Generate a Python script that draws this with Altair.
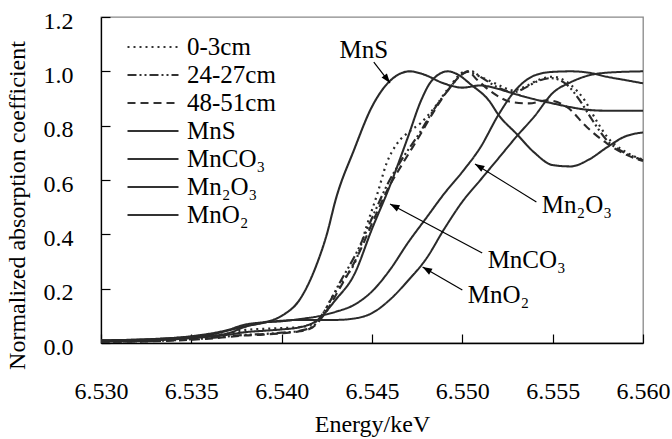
import math
import altair as alt
import pandas as pd

FONT = "Liberation Serif, DejaVu Serif, serif"

series_names = ["0-3cm", "24-27cm", "48-51cm", "MnS", "MnCO₃", "Mn₂O₃", "MnO₂"]

# ---- sample spectra ----
e_0_3 = [6.530, 6.532, 6.534, 6.536, 6.537, 6.538, 6.539, 6.540, 6.541, 6.5417, 6.5423, 6.5428,
         6.5433, 6.5442, 6.5447, 6.5453, 6.5458, 6.5464, 6.5471, 6.5477, 6.5485, 6.5492, 6.5502,
         6.551, 6.552, 6.5528, 6.5535, 6.5542, 6.555, 6.556, 6.5567, 6.5575, 6.558, 6.559, 6.560]
v_0_3 = [0.005, 0.008, 0.015, 0.025, 0.035, 0.048, 0.052, 0.055, 0.058, 0.07, 0.11, 0.17,
         0.22, 0.32, 0.43, 0.55, 0.66, 0.735, 0.78, 0.81, 0.87, 0.935, 1.0,
         0.98, 0.95, 0.93, 0.945, 0.968, 0.98, 0.95, 0.9, 0.81, 0.76, 0.705, 0.675]

e_24_27 = [6.530, 6.532, 6.534, 6.536, 6.537, 6.538, 6.539, 6.540, 6.541, 6.5417, 6.5423, 6.5432,
           6.5442, 6.5452, 6.5459, 6.5466, 6.5477, 6.5484, 6.5492, 6.550, 6.5505, 6.551, 6.552,
           6.5528, 6.5535, 6.5541, 6.5549, 6.5558, 6.5565, 6.5572, 6.558, 6.559, 6.560]
v_24_27 = [0.005, 0.006, 0.01, 0.018, 0.024, 0.03, 0.033, 0.038, 0.045, 0.06, 0.11, 0.22,
           0.34, 0.49, 0.59, 0.67, 0.78, 0.857, 0.93, 0.99, 1.0, 0.98, 0.94,
           0.923, 0.94, 0.962, 0.975, 0.95, 0.893, 0.82, 0.746, 0.70, 0.673]

e_48_51 = [6.530, 6.532, 6.534, 6.536, 6.537, 6.538, 6.539, 6.540, 6.541, 6.5417, 6.5423, 6.5432,
           6.5442, 6.5452, 6.5459, 6.5466, 6.5477, 6.5484, 6.5492, 6.550, 6.5503, 6.5508, 6.5515,
           6.5528, 6.5537, 6.5547, 6.5558, 6.5569, 6.558, 6.559, 6.560]
v_48_51 = [0.004, 0.005, 0.009, 0.016, 0.022, 0.028, 0.031, 0.036, 0.043, 0.057, 0.10, 0.20,
           0.32, 0.47, 0.57, 0.65, 0.77, 0.85, 0.93, 0.99, 1.0, 0.97, 0.93,
           0.886, 0.882, 0.893, 0.868, 0.794, 0.735, 0.695, 0.67]

# ---- reference spectra ----
e_mns = [6.530, 6.532, 6.534, 6.536, 6.537, 6.538, 6.539, 6.540, 6.541, 6.542, 6.5425, 6.543,
         6.544, 6.545, 6.546, 6.5471, 6.5478, 6.549, 6.550, 6.551, 6.552, 6.553, 6.554, 6.555,
         6.556, 6.557, 6.558, 6.560]
v_mns = [0.01, 0.012, 0.018, 0.03, 0.045, 0.062, 0.075, 0.10, 0.16, 0.30, 0.40, 0.53,
         0.71, 0.87, 0.965, 1.0, 0.99, 0.955, 0.94, 0.948, 0.935, 0.915, 0.897, 0.882,
         0.868, 0.858, 0.855, 0.855]

e_mnco3 = [6.530, 6.533, 6.535, 6.537, 6.538, 6.539, 6.540, 6.541, 6.542, 6.543, 6.544, 6.545,
           6.546, 6.547, 6.5477, 6.5483, 6.5492, 6.5497, 6.5505, 6.5515, 6.552, 6.553, 6.554,
           6.555, 6.556, 6.557, 6.558, 6.559, 6.560]
v_mnco3 = [0.005, 0.01, 0.018, 0.03, 0.04, 0.045, 0.05, 0.058, 0.085, 0.16, 0.25, 0.42,
           0.58, 0.76, 0.89, 0.965, 1.0, 0.99, 0.95, 0.89, 0.84, 0.77, 0.70,
           0.655, 0.65, 0.675, 0.72, 0.76, 0.775]

e_mn2o3 = [6.530, 6.533, 6.535, 6.537, 6.538, 6.539, 6.540, 6.541, 6.542, 6.543, 6.544, 6.545,
           6.546, 6.547, 6.548, 6.549, 6.550, 6.551, 6.552, 6.553, 6.554, 6.555, 6.556, 6.557,
           6.558, 6.559, 6.560]
v_mn2o3 = [0.01, 0.015, 0.025, 0.048, 0.068, 0.076, 0.08, 0.088, 0.098, 0.115, 0.14, 0.19,
           0.27, 0.37, 0.46, 0.55, 0.63, 0.72, 0.84, 0.935, 0.985, 0.998, 1.0, 0.995,
           0.98, 0.968, 0.956]

e_mno2 = [6.530, 6.533, 6.535, 6.537, 6.538, 6.539, 6.540, 6.541, 6.543, 6.544, 6.545, 6.546,
          6.547, 6.548, 6.549, 6.550, 6.551, 6.552, 6.553, 6.554, 6.555, 6.556, 6.557, 6.558,
          6.560]
v_mno2 = [0.008, 0.012, 0.02, 0.035, 0.06, 0.075, 0.082, 0.085, 0.085, 0.09, 0.11, 0.16,
          0.23, 0.31, 0.42, 0.52, 0.60, 0.68, 0.76, 0.835, 0.92, 0.96, 0.985, 0.995,
          1.0]

series_e = [e_0_3, e_24_27, e_48_51, e_mns, e_mnco3, e_mn2o3, e_mno2]
series_v = [v_0_3, v_24_27, v_48_51, v_mns, v_mnco3, v_mn2o3, v_mno2]

# ---- annotations ----
ann_labels = ["MnS", "Mn₂O₃", "MnCO₃", "MnO₂"]
ann_text_e = [6.5432, 6.5544, 6.5514, 6.5503]
ann_text_v = [1.078, 0.508, 0.305, 0.177]
arrow_start_e = [6.5451, 6.5541, 6.5511, 6.5500]
arrow_start_v = [1.034, 0.519, 0.331, 0.195]
arrow_tip_e = [6.5460, 6.5507, 6.5460, 6.5478]
arrow_tip_v = [0.957, 0.659, 0.512, 0.280]

x_ticks = [6.530, 6.535, 6.540, 6.545, 6.550, 6.555, 6.560]
y_ticks = [0.0, 0.2, 0.4, 0.6, 0.8, 1.0, 1.2]

dash_range = [[2, 4], [9, 3, 2, 3, 2, 3], [8, 5], [1, 0], [1, 0], [1, 0], [1, 0]]
width_range = [2.2, 2.0, 2.1, 1.1, 1.1, 1.1, 1.1]

W, H = 542, 326
X0, X1 = 6.530, 6.560
Y0, Y1 = 0.0, 1.2

rows = []
for name, es, vs in zip(series_names, series_e, series_v):
    for e, v in zip(es, vs):
        rows.append({"series": name, "E": e, "v": v})
df = pd.DataFrame(rows)

ang = []
for se, sv, te, tv in zip(arrow_start_e, arrow_start_v, arrow_tip_e, arrow_tip_v):
    dx = (te - se) * W / (X1 - X0)
    dy = -(tv - sv) * H / (Y1 - Y0)
    ang.append(math.degrees(math.atan2(dx, -dy)) % 360)

ann = pd.DataFrame({
    "label": ann_labels, "te": ann_text_e, "tv": ann_text_v,
    "se": arrow_start_e, "sv": arrow_start_v,
    "pe": arrow_tip_e, "pv": arrow_tip_v, "ang": ang,
})

x_scale = alt.Scale(domain=[X0, X1], nice=False, zero=False)
y_scale = alt.Scale(domain=[Y0, Y1], nice=False, zero=False)

lines = alt.Chart(df).mark_line(interpolate="monotone", color="#2a2a2a").encode(
    x=alt.X("E:Q", scale=x_scale,
            axis=alt.Axis(values=x_ticks, format=".3f", ticks=False, tickSize=0, grid=False,
                          domainColor="black", domainWidth=1.3, labelFont=FONT, labelFontSize=24,
                          labelColor="black", labelPadding=36, labelFlush=False,
                          title="Energy/keV", titleFont=FONT, titleFontSize=24,
                          titleFontWeight="normal", titleColor="black", titlePadding=9)),
    y=alt.Y("v:Q", scale=y_scale,
            axis=alt.Axis(values=y_ticks, format=".1f", ticks=False, tickSize=0, grid=False,
                          domainColor="black", domainWidth=1.3, labelFont=FONT, labelFontSize=24,
                          labelColor="black", labelPadding=28, labelOffset=4, labelFlush=False,
                          title="Normalized absorption coefficient", titleFont=FONT,
                          titleFontSize=24, titleFontWeight="normal", titleColor="black",
                          titlePadding=14, titleY=188)),
    strokeDash=alt.StrokeDash(
        "series:N", scale=alt.Scale(domain=series_names, range=dash_range),
        legend=alt.Legend(title=None, orient="none", legendX=25, legendY=19,
                          symbolType="stroke", symbolSize=2601, symbolStrokeWidth=1.5,
                          symbolStrokeColor="#333333", clipHeight=22, rowPadding=3,
                          labelOffset=7, padding=0, labelFont=FONT, labelFontSize=25,
                          labelColor="black", labelLimit=200)),
    strokeWidth=alt.StrokeWidth("series:N", scale=alt.Scale(domain=series_names, range=width_range),
                                legend=None),
)

arrows = alt.Chart(ann).mark_rule(color="black", strokeWidth=1.2).encode(
    x="se:Q", y="sv:Q", x2="pe:Q", y2="pv:Q")

heads = alt.Chart(ann).mark_point(
    shape="M0,0L0.36,1L-0.36,1Z", filled=True, color="black", opacity=1, size=360
).encode(x="pe:Q", y="pv:Q", angle=alt.Angle("ang:Q", scale=None))

texts = alt.Chart(ann).mark_text(
    align="left", baseline="middle", font=FONT, fontSize=25, color="black"
).encode(x="te:Q", y="tv:Q", text="label:N")

main = alt.layer(lines, arrows, heads, texts)

tick_layer = alt.Chart(df).mark_line(strokeOpacity=0).encode(
    x=alt.X("E:Q", scale=x_scale,
            axis=alt.Axis(orient="bottom", offset=-9, values=x_ticks, tickSize=9, labels=False,
                          domain=False, grid=False, title=None, tickColor="black", tickWidth=1.2)),
    y=alt.Y("v:Q", scale=y_scale,
            axis=alt.Axis(orient="left", offset=-9, values=y_ticks, tickSize=9, labels=False,
                          domain=False, grid=False, title=None, tickColor="black", tickWidth=1.2)),
    detail="series:N",
)

chart = alt.layer(main, tick_layer).resolve_axis(x="independent", y="independent").properties(
    width=W, height=H, autosize="none",
    padding={"left": 101, "top": 17, "right": 29, "bottom": 96},
    background="white",
).configure_view(stroke="#888888", strokeWidth=1.3)

chart.save("out.html", embed_options={"renderer": "svg", "actions": False})
